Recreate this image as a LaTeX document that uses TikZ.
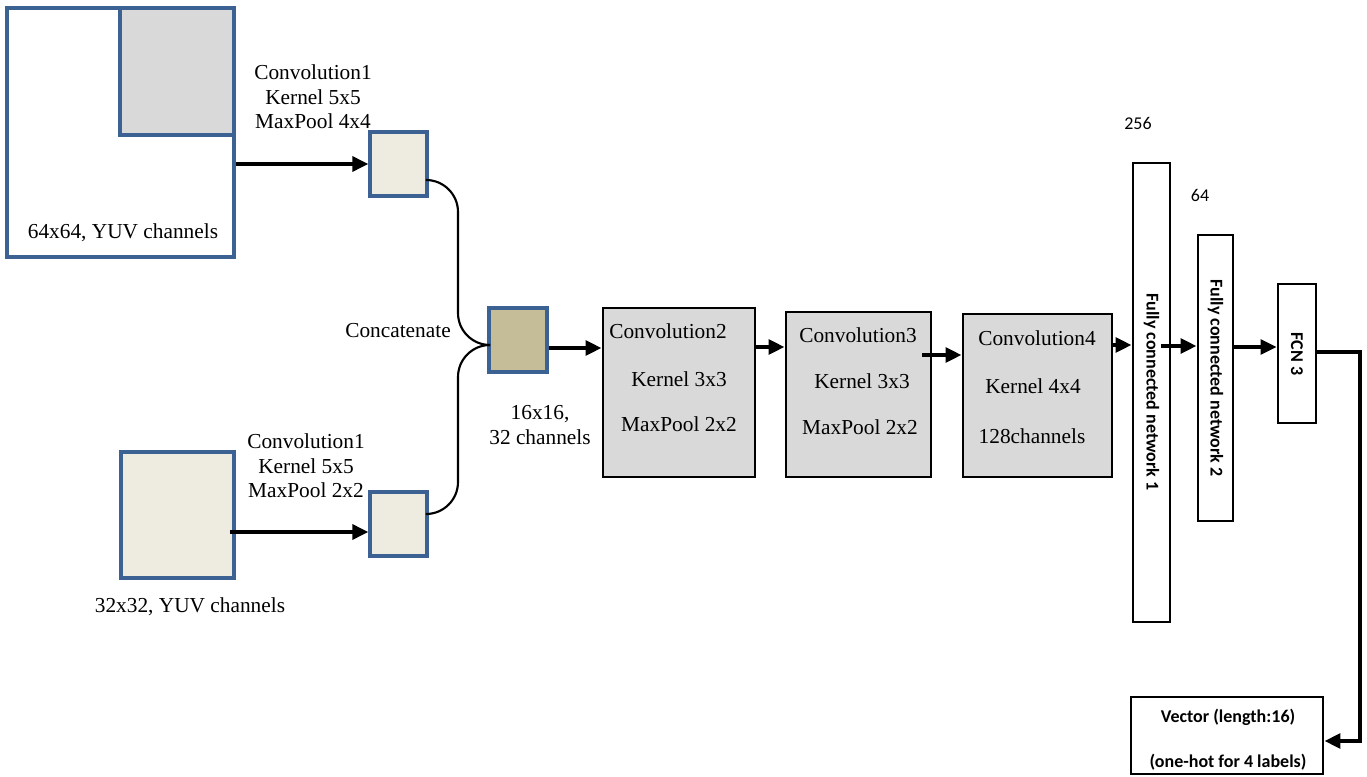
\documentclass[tikz,border=0pt]{standalone}
\usepackage{fontspec}
\setmainfont{Liberation Serif}
\newfontfamily\carlitofont{Carlito}
\usetikzlibrary{arrows.meta,calc}
\definecolor{bborder}{RGB}{60,98,148}
\definecolor{lightfill}{RGB}{238,236,225}
\definecolor{tanfill}{RGB}{196,189,151}
\definecolor{grayfill}{RGB}{217,217,217}
\tikzset{
  bbox/.style={draw=bborder, line width=2.4pt, inner sep=0pt},
  kbox/.style={draw=black, line width=2.2pt, inner sep=0pt},
  sz/.style 2 args={minimum width=#1*0.75pt, minimum height=#2*0.75pt},
  arr/.style={line width=3.6pt, -{Triangle[length=12pt,width=11pt]}},
  thinarr/.style={line width=2.6pt, -{Triangle[length=12pt,width=11pt]}},
  curve/.style={line width=1.6pt, rounded corners=24pt},
  serif/.style={font=\fontsize{16}{18.4}\selectfont, align=center, inner sep=0pt},
  sans/.style={font=\carlitofont\fontsize{13.5}{16}\selectfont, inner sep=0pt},
  sansb/.style={font=\carlitofont\bfseries\fontsize{13.5}{16}\selectfont, inner sep=0pt},
}
\begin{document}
\begin{tikzpicture}[x=0.75pt,y=-0.75pt]
\useasboundingbox (0,0) rectangle (1367,777);
% inputs
\node[bbox, fill=white, sz={227}{249}] (in1) at (120.5,132.5) {};
\node[bbox, fill=grayfill, sz={114}{127}] (in1g) at (177,71.5) {};
\node[serif] (in1t) at (123,233) {64x64, YUV channels};
\node[bbox, fill=lightfill, sz={113}{126}] (in2) at (177.5,515) {};
\node[serif] (in2t) at (190,607) {32x32, YUV channels};
% first conv outputs
\node[bbox, fill=lightfill, sz={57}{64}] (s1) at (398.5,164) {};
\node[bbox, fill=lightfill, sz={57}{64}] (s2) at (398.5,524) {};
\node[serif] (l1) at (313,97) {Convolution1\\Kernel 5x5\\MaxPool 4x4};
\node[serif] (l2) at (306,466) {Convolution1\\Kernel 5x5\\MaxPool 2x2};
% concat
\node[bbox, fill=tanfill, sz={58}{64}] (cc) at (518,340) {};
\node[serif] (cct) at (398,331) {Concatenate};
\node[serif] (cct2) at (540,425) {16x16,\\32 channels};
% conv boxes
\node[kbox, fill=grayfill, sz={152}{169}] (c2) at (679,392.5) {};
\node[kbox, fill=grayfill, sz={145}{165}] (c3) at (858.5,394.5) {};
\node[kbox, fill=grayfill, sz={149}{163}] (c4) at (1037.5,395.5) {};
\node[serif] (c2a) at (668,331) {Convolution2};
\node[serif] (c2b) at (679,379) {Kernel 3x3};
\node[serif] (c2c) at (679,424) {MaxPool 2x2};
\node[serif] (c3a) at (858,335) {Convolution3};
\node[serif] (c3b) at (862,381) {Kernel 3x3};
\node[serif] (c3c) at (860,427) {MaxPool 2x2};
\node[serif] (c4a) at (1037,338) {Convolution4};
\node[serif] (c4b) at (1033,386) {Kernel 4x4};
\node[serif] (c4c) at (1032,436) {128channels};
% fully connected
\node[kbox, fill=white, sz={37}{459}] (f1) at (1151.5,392.5) {};
\node[kbox, fill=white, sz={35}{286}] (f2) at (1215.5,378) {};
\node[kbox, fill=white, sz={38}{139}] (f3) at (1297,353.5) {};
\node[sansb, rotate=-90] (f1t) at (1151.5,392) {Fully connected network 1};
\node[sansb, rotate=-90] (f2t) at (1215.5,378) {Fully connected network 2};
\node[sansb, rotate=-90] (f3t) at (1297,354) {FCN 3};
\node[sans] (n256) at (1138,123) {256};
\node[sans] (n64) at (1200,195) {64};
% output
\node[kbox, fill=white, sz={192}{77}] (vec) at (1227,735.5) {};
\node[sansb] (v1) at (1228,717) {Vector (length:16)};
\node[sansb] (v2) at (1228,762) {(one-hot for 4 labels)};
\coordinate (oc1) at (1360,352);
\coordinate (oc2) at (1360,741);
% connectors
\draw[arr] (in1.east |- s1.west) -- (s1.west);
\draw[arr] ($(in2.east)+(-6,17)$) -- ($(s2.west)+(0,8)$);
\coordinate (j1) at (458,180);
\coordinate (j2) at (458,345);
\coordinate (j3) at (458,514);
\draw[curve] (s1.east |- j1) -- (j1) -- (j2) -- (cc.west |- j2);
\draw[curve] (s2.east |- j3) -- (j3) -- (j2) -- (cc.west |- j2);
\draw[arr] (cc.east |- 0,348) -- (c2.west |- 0,348);
\draw[arr] (c2.east |- 0,347) -- (c3.west |- 0,347);
\draw[arr] ($(c3.east |- 0,355)+(-10,0)$) -- (c4.west |- 0,355);
\draw[arr] (c4.east |- 0,345) -- (f1.west |- 0,345);
\draw[arr] ($(f1.east |- 0,346)+(-10,0)$) -- (f2.west |- 0,346);
\draw[thinarr] (f2.east |- 0,347) -- (f3.west |- 0,347);
\draw[line width=3pt, -{Triangle[length=12pt,width=11pt]}] (f3.east |- oc1) -- (oc1) -- (oc2) -- (vec.east |- oc2);
\end{tikzpicture}
\end{document}
